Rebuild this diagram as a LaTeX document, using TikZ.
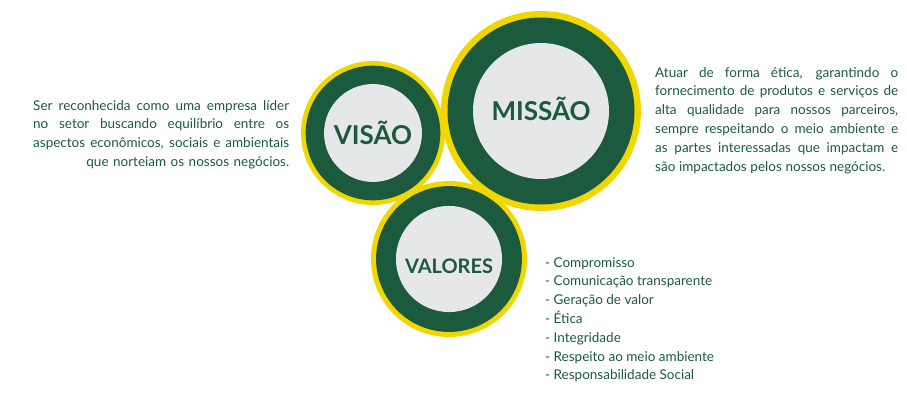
\documentclass[tikz,border=0pt]{standalone}
\usepackage{fontspec}
\setmainfont{Lato}
\usetikzlibrary{positioning}
\definecolor{mvgreen}{HTML}{1B5A3D}
\definecolor{mvyellow}{HTML}{F2D600}
\definecolor{mvgray}{HTML}{E6E7E8}
% one justified line of a paragraph
\newcommand{\jline}[2][\hsize]{\hbox to #1{\spaceskip=\fontdimen2\font plus 1fil\relax #2}}
\tikzset{
  ringout/.style={circle, fill=mvyellow, inner sep=0pt},
  ringmid/.style={circle, fill=mvgreen, inner sep=0pt},
  ringin/.style={circle, fill=mvgray, inner sep=0pt},
  ringlbl/.style={inner sep=0pt, text=mvgreen},
  para/.style={inner sep=0pt, text=mvgreen, font=\fontsize{13.5}{18.8}\selectfont},
}

\begin{document}
\begin{tikzpicture}[x=1pt, y=-1pt]
  \useasboundingbox (0,0) rectangle (907,404);
  % circles
  \foreach \nm/\x/\y/\r/\txt/\fs/\dy in {vis/373/133/72/VISÃO/26/0, mis/541/111/100/MISSÃO/26/2, val/449/259/78/VALORES/20/-7}{
    \node[ringout, minimum size={2*\r pt}] (\nm-out) at (\x,\y) {};
    \node[ringmid, minimum size={1.87*\r pt}] (\nm-ring) at (\nm-out) {};
    \node[ringin, minimum size={1.36*\r pt}] (\nm-in) at (\nm-out) {};
    \node[ringlbl, font=\fontsize{\fs}{\fs}\selectfont\bfseries] (\nm) at ([yshift=\dy pt]\nm-in) {\txt};
  }
  % texts
  \node[para, text width=256pt, anchor=north west] (vis-txt) at (33,100) {%
    \jline{Ser reconhecida como uma empresa líder}
    \jline{no setor buscando equilíbrio entre os}
    \jline{aspectos econômicos, sociais e ambientais}
    \hbox to \hsize{\hfill que norteiam os nossos negócios.}};
  \node[para, text width=243pt, anchor=north west] (mis-txt) at (655,67) {%
    \jline{Atuar de forma ética, garantindo o}
    \jline{fornecimento de produtos e serviços de}
    \jline{alta qualidade para nossos parceiros,}
    \jline{sempre respeitando o meio ambiente e}
    \jline{as partes interessadas que impactam e}
    \jline[230pt]{são impactados pelos nossos negócios.}};
  \node[para, align=left, anchor=north west] (val-txt) at (545,257) {%
    - Compromisso\\
    - Comunicação transparente\\
    - Geração de valor\\
    - Ética\\
    - Integridade\\
    - Respeito ao meio ambiente\\
    - Responsabilidade Social};
\end{tikzpicture}
\end{document}
